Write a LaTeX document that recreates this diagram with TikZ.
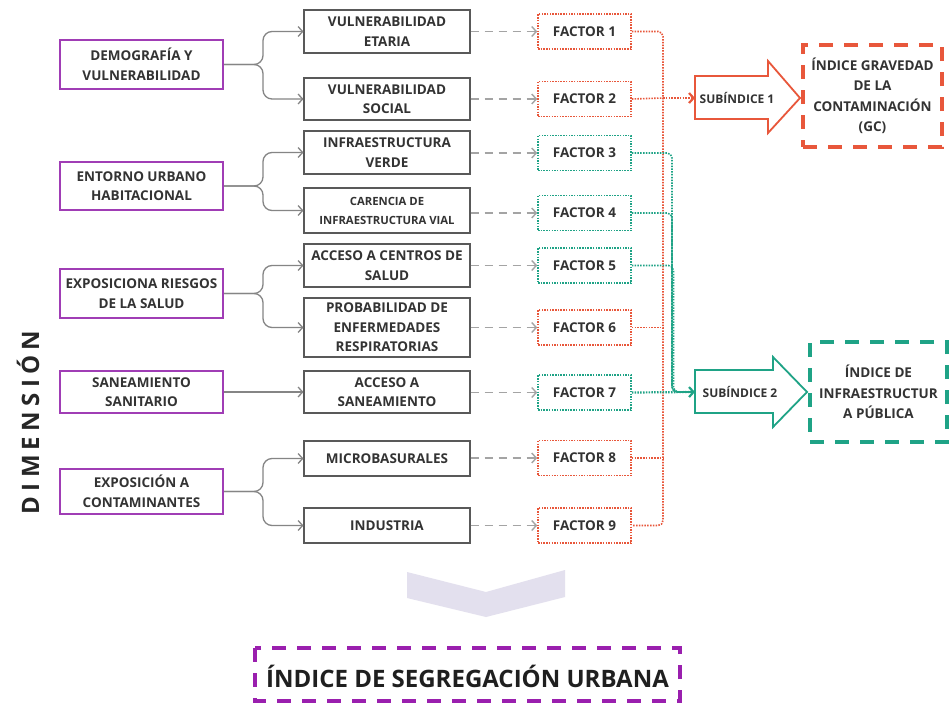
\documentclass[tikz,border=0pt]{standalone}
\usepackage{fontspec}
\setmainfont{Open Sans}
\usetikzlibrary{arrows.meta}
\definecolor{txt}{HTML}{333333}
\definecolor{pur}{HTML}{A03DB5}
\definecolor{purd}{HTML}{9A1FAE}
\definecolor{redc}{HTML}{E8573B}
\definecolor{grn}{HTML}{1FA386}
\definecolor{gline}{HTML}{858585}
\definecolor{chev}{HTML}{E3E0EE}
\newcommand{\lsp}{\hspace{5.3pt}}
\begin{document}
\begin{tikzpicture}[x=1pt,y=-1pt,
  every node/.style={font=\bfseries\fontsize{13.5}{19.5}\selectfont, text=txt, align=center, inner sep=0pt},
  dimbox/.style={draw=pur, line width=2pt, minimum width=163pt},
  subbox/.style={draw=black!65, line width=1.1pt, minimum width=166pt},
  facbox/.style={line width=1.6pt, dash pattern=on 1.5pt off 1.2pt, minimum width=93pt, minimum height=35pt},
  facR/.style={facbox, draw=redc},
  facG/.style={facbox, draw=grn},
  branch/.style={draw=gline, line width=1.3pt, rounded corners=9pt, -{Straight Barb[length=4.5pt,width=10pt]}},
  dasharr/.style={draw=gline!75, line width=1.4pt, dash pattern=on 8pt off 6pt, -{Straight Barb[length=4.5pt,width=10pt]}},
  rdot/.style={draw=redc, line width=1.6pt, dash pattern=on 1.5pt off 1.3pt, rounded corners=5pt},
  gdot/.style={draw=grn, line width=1.6pt, dash pattern=on 1.5pt off 1.3pt, rounded corners=5pt},
  idxbox/.style={line width=4pt, dash pattern=on 14pt off 11pt, font=\bfseries\fontsize{13.5}{20.5}\selectfont},
  subidx/.style={font=\bfseries\fontsize{12}{13}\selectfont},
]
\useasboundingbox (0,0) rectangle (951,702);
\fill[white] (0,0) rectangle (951,702);

% DIMENSION label
\node[rotate=90, font=\bfseries\fontsize{24}{24}\selectfont, text=black!85] (DIM) at (28,422.5)
  {D\lsp I\lsp M\lsp E\lsp N\lsp S\lsp I\lsp Ó\lsp N};

% dimension boxes
\node[dimbox, minimum height=49pt] (DV) at (141.5,64.5) {DEMOGRAFÍA Y\\VULNERABILIDAD};
\node[dimbox, minimum height=48pt] (EU) at (141.5,186) {ENTORNO URBANO\\HABITACIONAL};
\node[dimbox, minimum height=49pt] (ER) at (141.5,293.5) {EXPOSICIONA RIESGOS\\DE LA SALUD};
\node[dimbox, minimum height=42pt] (SS) at (141.5,392) {SANEAMIENTO\\SANITARIO};
\node[dimbox, minimum height=45pt] (EC) at (141.5,491.5) {EXPOSICIÓN A\\CONTAMINANTES};

% sub boxes
\node[subbox, minimum height=43pt] (VE) at (387,31.5) {VULNERABILIDAD\\ETARIA};
\node[subbox, minimum height=42pt] (VS) at (387,99) {VULNERABILIDAD\\SOCIAL};
\node[subbox, minimum height=43pt] (IV) at (387,152.5) {INFRAESTRUCTURA\\VERDE};
\node[subbox, minimum height=45pt, font=\bfseries\fontsize{11.3}{19}\selectfont] (CI) at (387,210.5) {CARENCIA DE\\INFRAESTRUCTURA VIAL};
\node[subbox, minimum height=43pt] (AC) at (387,265.5) {ACCESO A CENTROS DE\\SALUD};
\node[subbox, minimum height=59pt] (PE) at (387,327.5) {PROBABILIDAD DE\\ENFERMEDADES\\RESPIRATORIAS};
\node[subbox, minimum height=42pt] (AS) at (387,392) {ACCESO A\\SANEAMIENTO};
\node[subbox, minimum height=35pt] (MB) at (387,458.5) {MICROBASURALES};
\node[subbox, minimum height=35pt] (IN) at (387,525.5) {INDUSTRIA};

% factor boxes
\node[facR] (F1) at (584.5,31.5) {FACTOR 1};
\node[facR] (F2) at (584.5,99) {FACTOR 2};
\node[facG] (F3) at (584.5,153) {FACTOR 3};
\node[facG] (F4) at (584.5,213) {FACTOR 4};
\node[facG] (F5) at (584.5,265.5) {FACTOR 5};
\node[facR] (F6) at (584.5,327.5) {FACTOR 6};
\node[facG] (F7) at (584.5,392.5) {FACTOR 7};
\node[facR] (F8) at (584.5,458) {FACTOR 8};
\node[facR] (F9) at (584.5,525.5) {FACTOR 9};

% branches
\draw[branch] (DV.east) -- (263,64.5) -- (263,31.5) -- (VE.west);
\draw[branch] (DV.east) -- (263,64.5) -- (263,99) -- (VS.west);
\draw[branch] (EU.east) -- (263,186) -- (263,152.5) -- (IV.west);
\draw[branch] (EU.east) -- (263,186) -- (263,210.5) -- (CI.west);
\draw[branch] (ER.east) -- (263,293.5) -- (263,265.5) -- (AC.west);
\draw[branch] (ER.east) -- (263,293.5) -- (263,327.5) -- (PE.west);
\draw[branch] (SS.east) -- (AS.west);
\draw[branch] (EC.east) -- (263,491.5) -- (263,458.5) -- (MB.west);
\draw[branch] (EC.east) -- (263,491.5) -- (263,525.5) -- (IN.west);

% dashed arrows
\foreach \s/\f in {VE/F1,VS/F2,IV/F3,CI/F4,AC/F5,PE/F6,AS/F7,MB/F8,IN/F9}
  \draw[dasharr] (\f.west -| \s.east) -- (\f.west);

% subindex block arrows
\draw[redc, line width=1.8pt, fill=white] (695,76) -- (768,76) -- (768,61) -- (800,98) -- (768,133) -- (768,119) -- (695,119) -- cycle;
\node[subidx] (S1) at (737,98) {SUBÍNDICE 1};
\coordinate (S1in) at (695,98);
\draw[grn, line width=1.8pt, fill=white] (695,370) -- (773,370) -- (773,357) -- (807,392) -- (773,427) -- (773,413) -- (695,413) -- cycle;
\node[subidx] (S2) at (740,392) {SUBÍNDICE 2};
\coordinate (S2in) at (695,392);

% red dotted connectors
\coordinate (RB) at (663,98);
\draw[rdot] (F1.east) -- (663,31.5) -- (663,525.5) -- (F9.east);
\draw[rdot] (F2.east) -- (RB);
\draw[rdot] (F6.east) -- (663,327.5);
\draw[rdot] (F8.east) -- (663,458);
\draw[rdot, line width=2.2pt, -{Straight Barb[length=4.5pt,width=10pt]}] (RB) -- (S1in);

% green dotted connectors
\draw[gdot] (F3.east) -- (672,153) -- (672,392) -- (S2in);
\draw[gdot] (F4.east) -- (672,213) -- (672,392) -- (S2in);
\draw[gdot] (F5.east) -- (673.5,265.5) -- (673.5,392) -- (S2in);
\draw[gdot, line width=2.2pt, -{Straight Barb[length=4.5pt,width=10pt]}] (F7.east) -- (S2in);

% index boxes
\node[idxbox, draw=redc, minimum width=139pt, minimum height=102pt] (GC) at (872.5,96) {ÍNDICE GRAVEDAD\\DE LA\\CONTAMINACIÓN\\(GC)};
\node[idxbox, draw=grn, minimum width=137pt, minimum height=100pt] (IP) at (878.5,392) {ÍNDICE DE\\INFRAESTRUCTUR\\A PÚBLICA};

% chevron
\fill[chev] (407,572) -- (486,592) -- (565,570) -- (565,597) -- (486,617) -- (407,598) -- cycle;

% final index
\draw[purd, line width=4pt, dash pattern=on 14pt off 11pt] (255,648) rectangle (680,701);
\node[font=\bfseries\fontsize{24}{26}\selectfont, text=black!88] (ISU) at (467.5,676) {ÍNDICE DE SEGREGACIÓN URBANA};
\end{tikzpicture}
\end{document}
